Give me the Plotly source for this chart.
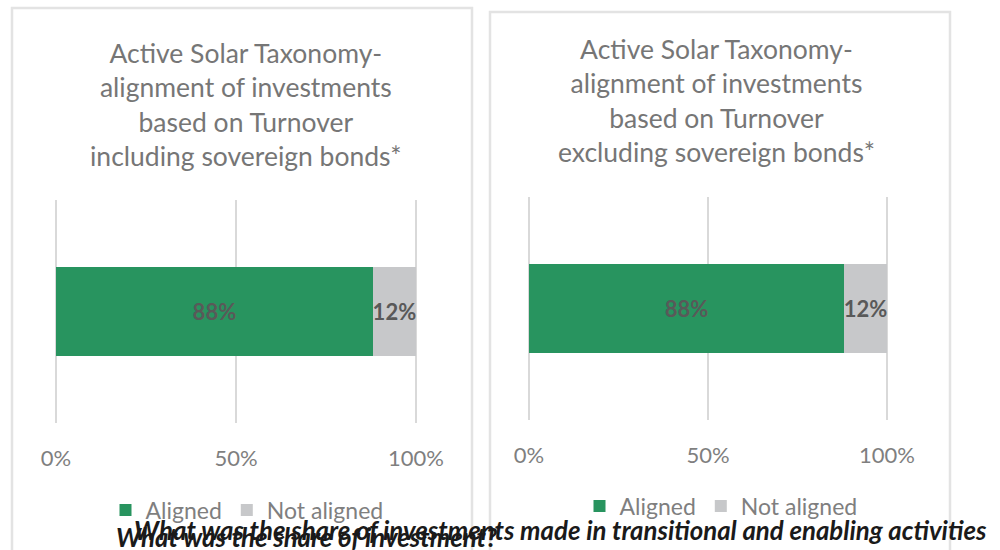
import plotly.graph_objects as go

# ---- data ----
categories = ["Aligned", "Not aligned"]
incl_values = [0.88, 0.12]
excl_values = [0.88, 0.12]
incl_labels = ["88%", "12%"]
excl_labels = ["88%", "12%"]
tick_vals = [0, 0.5, 1]
tick_text = ["0%", "50%", "100%"]
colors = ["#28945F", "#C7C8CA"]
title_left = "Active Solar Taxonomy-<br>alignment of investments<br>based on Turnover<br>including sovereign bonds*"
title_right = "Active Solar Taxonomy-<br>alignment of investments<br>based on Turnover<br>excluding sovereign bonds*"
footer_1 = "What was the share of investments made in transitional and enabling activities"
footer_2 = "What was the share of investment?"

W, H = 1000, 550
FONT = "Lato"
PAD = 0.01  # small range padding so the 0% and 100% grid lines are drawn


def px(x):
    return x / W


def py(y):
    return 1 - y / H


def dom(x0, x1):
    span = (x1 - x0) * (1 + 2 * PAD)
    left = x0 - (x1 - x0) * PAD
    return [px(left), px(left + span)]


fig = go.Figure()

for i, (name, col) in enumerate(zip(categories, colors)):
    fig.add_trace(go.Bar(
        x=[incl_values[i]], y=["a"], orientation="h", name=name,
        marker=dict(color=col, line=dict(width=0)),
        text=[incl_labels[i]], textposition="inside", insidetextanchor="middle",
        constraintext="none", textangle=0, cliponaxis=False,
        textfont=dict(family=FONT, size=22, color="#595959", weight="bold"),
        xaxis="x", yaxis="y", legend="legend", width=0.4, hoverinfo="skip",
    ))
for i, (name, col) in enumerate(zip(categories, colors)):
    fig.add_trace(go.Bar(
        x=[excl_values[i]], y=["a"], orientation="h", name=name,
        marker=dict(color=col, line=dict(width=0)),
        text=[excl_labels[i]], textposition="inside", insidetextanchor="middle",
        constraintext="none", textangle=0, cliponaxis=False,
        textfont=dict(family=FONT, size=22, color="#595959", weight="bold"),
        xaxis="x2", yaxis="y2", legend="legend2", width=0.4, hoverinfo="skip",
    ))

axis_common = dict(
    range=[-PAD, 1 + PAD], tickvals=tick_vals, ticktext=tick_text, showgrid=True,
    gridcolor="#D9D9D9", gridwidth=1.5, zeroline=False, showline=False,
    ticks="", tickfont=dict(family=FONT, size=22, color="#7F7F7F"),
    fixedrange=True, automargin=False, ticklabelstandoff=20,
)

legend_common = dict(
    orientation="h", xanchor="center", yanchor="middle", traceorder="normal",
    font=dict(family=FONT, size=23, color="#7F7F7F"), bgcolor="rgba(0,0,0,0)",
    itemclick=False, itemdoubleclick=False, itemwidth=30,
)

fig.update_layout(
    width=W, height=H, margin=dict(l=0, r=0, t=0, b=0, pad=0, autoexpand=False),
    paper_bgcolor="white", plot_bgcolor="white",
    barmode="stack", showlegend=True,
    font=dict(family=FONT),
    xaxis=dict(domain=dom(56, 416), anchor="y", **axis_common),
    yaxis=dict(domain=[py(423), py(200)], anchor="x", visible=False, range=[-0.5, 0.5], fixedrange=True),
    xaxis2=dict(domain=dom(529, 887), anchor="y2", **axis_common),
    yaxis2=dict(domain=[py(420), py(197)], anchor="x2", visible=False, range=[-0.5, 0.5], fixedrange=True),
    legend=dict(x=px(247), y=py(510), **legend_common),
    legend2=dict(x=px(721), y=py(506), **legend_common),
    shapes=[
        dict(type="rect", xref="paper", yref="paper", x0=px(12), x1=px(472), y0=py(8), y1=-0.05,
             line=dict(color="#E3E3E3", width=2.5), layer="below"),
        dict(type="rect", xref="paper", yref="paper", x0=px(490), x1=px(950), y0=py(12), y1=-0.05,
             line=dict(color="#E3E3E3", width=2.5), layer="below"),
    ],
    annotations=[
        dict(text=title_left, xref="paper", yref="paper", x=px(246), y=py(104), xanchor="center",
             yanchor="middle", showarrow=False, align="center",
             font=dict(family=FONT, size=26.5, color="#767676")),
        dict(text=title_right, xref="paper", yref="paper", x=px(716), y=py(100), xanchor="center",
             yanchor="middle", showarrow=False, align="center",
             font=dict(family=FONT, size=26.5, color="#767676")),
        dict(text="<b><i>" + footer_1 + "</i></b>", xref="paper", yref="paper", x=px(560), y=py(530),
             xanchor="center", yanchor="middle", showarrow=False,
             font=dict(family=FONT, size=25.8, color="#1A1A1A")),
        dict(text="<b><i>" + footer_2 + "</i></b>", xref="paper", yref="paper", x=px(306), y=py(537),
             xanchor="center", yanchor="middle", showarrow=False,
             font=dict(family=FONT, size=25.8, color="#1A1A1A")),
    ],
)

fig.write_html("out.html", config={"displayModeBar": False},
               post_script="document.body.style.margin='0';")
